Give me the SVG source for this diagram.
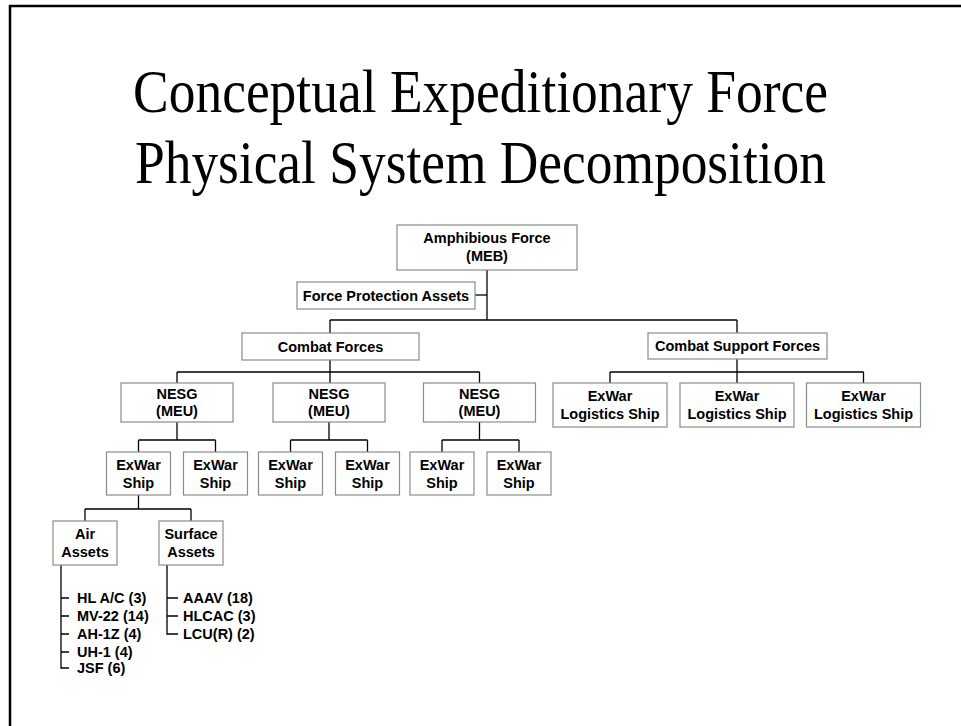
<svg xmlns="http://www.w3.org/2000/svg" width="961" height="726" viewBox="0 0 961 726">
  <style>
    .box { fill: #ffffff; stroke: #8c8c8c; stroke-width: 1.2; }
    .lbl { font-family: "Liberation Sans", Arial, sans-serif; font-weight: bold; font-size: 14.5px; fill: #000000; text-anchor: middle; }
    .item { font-family: "Liberation Sans", Arial, sans-serif; font-weight: bold; font-size: 14.5px; fill: #000000; }
    .title { font-family: "Liberation Serif", "Times New Roman", serif; font-size: 62px; fill: #000000; text-anchor: middle; }
    .wire { fill: none; stroke: #000000; stroke-width: 1.3; }
  </style>
  <rect x="0" y="0" width="961" height="726" fill="#ffffff"/>
  <!-- slide frame: top and left edges -->
  <path d="M10 726 V6 H961" fill="none" stroke="#000000" stroke-width="2.5"/>

  <text class="title" x="480.5" y="112" textLength="695" lengthAdjust="spacingAndGlyphs">Conceptual Expeditionary Force</text>
  <text class="title" x="480.5" y="183" textLength="691" lengthAdjust="spacingAndGlyphs">Physical System Decomposition</text>

  <g id="connectors" class="wire">
    <path d="M487 270 V320"/>
    <path d="M475 295 H487"/>
    <path d="M330 320 H737"/>
    <path d="M330 320 V333 M737 320 V333"/>
    <!-- combat forces to NESG -->
    <path d="M330 360 V383 M177 372 H479.5 M177 372 V383 M479.5 372 V383"/>
    <!-- combat support to logistics -->
    <path d="M737 359 V383 M610 372 H863.5 M610 372 V383 M863.5 372 V383"/>
    <!-- NESG to ExWar ships -->
    <path d="M177 422 V440 M138.5 440 H215.5 M138.5 440 V452 M215.5 440 V452"/>
    <path d="M329 422 V440 M290.5 440 H367.5 M290.5 440 V452 M367.5 440 V452"/>
    <path d="M479.5 422 V440 M442 440 H519 M442 440 V452 M519 440 V452"/>
    <!-- ExWar ship to asset groups -->
    <path d="M138.5 495 V509 M85 509 H191 M85 509 V521 M191 509 V521"/>
    <!-- air asset list -->
    <path d="M61 565 V668 H69 M61 598 H69 M61 616 H69 M61 634 H69 M61 652 H69"/>
    <!-- surface asset list -->
    <path d="M167 565 V634 H178 M167 598 H178 M167 616 H178"/>
  </g>

  <g id="amphibious-force">
    <rect class="box" x="397" y="225" width="180" height="45"/>
    <text class="lbl" x="487" y="243">Amphibious Force</text>
    <text class="lbl" x="487" y="261">(MEB)</text>
  </g>
  <g id="force-protection">
    <rect class="box" x="297" y="282" width="178" height="27"/>
    <text class="lbl" x="386" y="300.5">Force Protection Assets</text>
  </g>
  <g id="combat-forces">
    <rect class="box" x="242" y="333" width="177" height="27"/>
    <text class="lbl" x="330.5" y="351.5">Combat Forces</text>
  </g>
  <g id="combat-support-forces">
    <rect class="box" x="648" y="333" width="179" height="26"/>
    <text class="lbl" x="737.5" y="351">Combat Support Forces</text>
  </g>

  <g id="nesg-1">
    <rect class="box" x="121" y="383" width="112" height="39"/>
    <text class="lbl" x="177" y="399">NESG</text>
    <text class="lbl" x="177" y="416">(MEU)</text>
  </g>
  <g id="nesg-2">
    <rect class="box" x="273" y="383" width="112" height="39"/>
    <text class="lbl" x="329" y="399">NESG</text>
    <text class="lbl" x="329" y="416">(MEU)</text>
  </g>
  <g id="nesg-3">
    <rect class="box" x="423.5" y="383" width="112" height="39"/>
    <text class="lbl" x="479.5" y="399">NESG</text>
    <text class="lbl" x="479.5" y="416">(MEU)</text>
  </g>

  <g id="logistics-1">
    <rect class="box" x="553" y="383" width="114" height="44"/>
    <text class="lbl" x="610" y="401">ExWar</text>
    <text class="lbl" x="610" y="419">Logistics Ship</text>
  </g>
  <g id="logistics-2">
    <rect class="box" x="680" y="383" width="114" height="44"/>
    <text class="lbl" x="737" y="401">ExWar</text>
    <text class="lbl" x="737" y="419">Logistics Ship</text>
  </g>
  <g id="logistics-3">
    <rect class="box" x="806.5" y="383" width="114" height="44"/>
    <text class="lbl" x="863.5" y="401">ExWar</text>
    <text class="lbl" x="863.5" y="419">Logistics Ship</text>
  </g>

  <g id="ship-1a">
    <rect class="box" x="106.5" y="452" width="64" height="43"/>
    <text class="lbl" x="138.5" y="470">ExWar</text>
    <text class="lbl" x="138.5" y="488">Ship</text>
  </g>
  <g id="ship-1b">
    <rect class="box" x="183.5" y="452" width="64" height="43"/>
    <text class="lbl" x="215.5" y="470">ExWar</text>
    <text class="lbl" x="215.5" y="488">Ship</text>
  </g>
  <g id="ship-2a">
    <rect class="box" x="258.5" y="452" width="64" height="43"/>
    <text class="lbl" x="290.5" y="470">ExWar</text>
    <text class="lbl" x="290.5" y="488">Ship</text>
  </g>
  <g id="ship-2b">
    <rect class="box" x="335.5" y="452" width="64" height="43"/>
    <text class="lbl" x="367.5" y="470">ExWar</text>
    <text class="lbl" x="367.5" y="488">Ship</text>
  </g>
  <g id="ship-3a">
    <rect class="box" x="410" y="452" width="64" height="43"/>
    <text class="lbl" x="442" y="470">ExWar</text>
    <text class="lbl" x="442" y="488">Ship</text>
  </g>
  <g id="ship-3b">
    <rect class="box" x="487" y="452" width="64" height="43"/>
    <text class="lbl" x="519" y="470">ExWar</text>
    <text class="lbl" x="519" y="488">Ship</text>
  </g>

  <g id="air-assets">
    <rect class="box" x="53" y="521" width="64" height="44"/>
    <text class="lbl" x="85" y="539">Air</text>
    <text class="lbl" x="85" y="557">Assets</text>
  </g>
  <g id="surface-assets">
    <rect class="box" x="159" y="521" width="64" height="44"/>
    <text class="lbl" x="191" y="539">Surface</text>
    <text class="lbl" x="191" y="557">Assets</text>
  </g>

  <g id="air-items">
    <text class="item" x="77" y="603">HL A/C (3)</text>
    <text class="item" x="77" y="621">MV-22 (14)</text>
    <text class="item" x="77" y="639">AH-1Z (4)</text>
    <text class="item" x="77" y="657">UH-1 (4)</text>
    <text class="item" x="77" y="673">JSF (6)</text>
  </g>
  <g id="surface-items">
    <text class="item" x="183" y="603">AAAV (18)</text>
    <text class="item" x="183" y="621">HLCAC (3)</text>
    <text class="item" x="183" y="639">LCU(R) (2)</text>
  </g>
</svg>
